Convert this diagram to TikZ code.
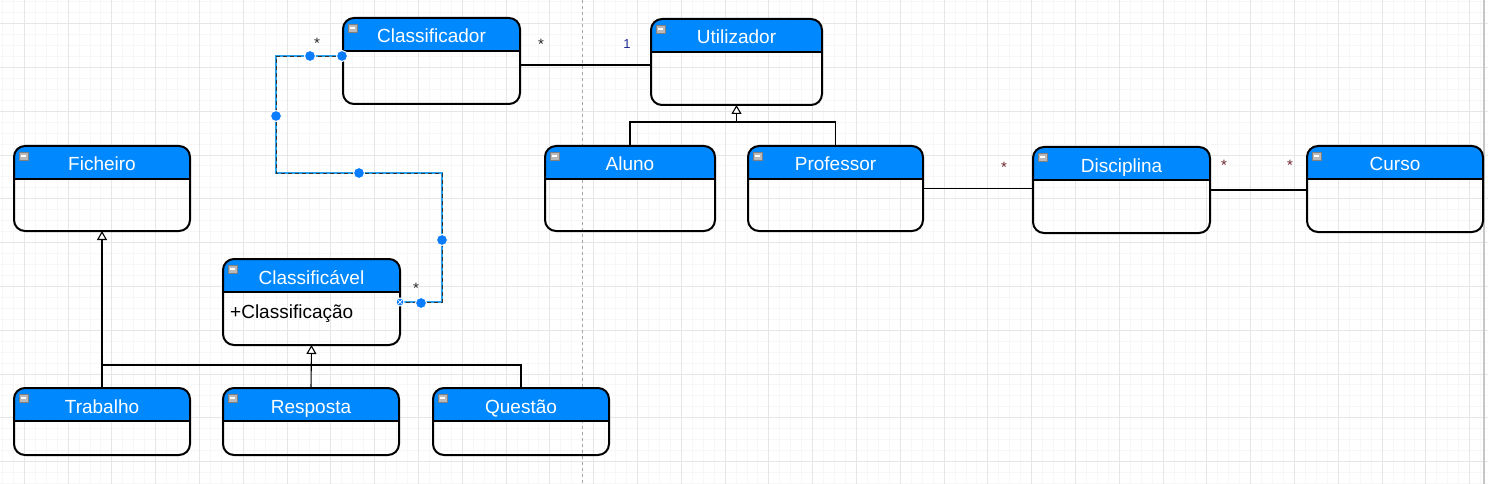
\documentclass[tikz,border=0pt]{standalone}
\usepackage{fontspec}
\setmainfont{Liberation Sans}
\usetikzlibrary{arrows.meta, positioning, calc}
\definecolor{hdrblue}{RGB}{0,136,255}
\definecolor{selblue}{RGB}{40,160,235}
\definecolor{dotblue}{RGB}{10,125,255}
\definecolor{gridminor}{RGB}{247,247,247}
\definecolor{gridmajor}{RGB}{230,230,230}
\definecolor{multred}{RGB}{110,35,45}
\definecolor{multnavy}{RGB}{30,40,150}
\tikzset{
classbox/.style={rectangle, inner sep=0pt, outer sep=0pt}, % invisible frame, only gives the anchors
classline/.style={line width=2pt, rounded corners=11pt}, % outline of every class
classtitle/.style={text=white, anchor=base, inner sep=0pt, font=\fontsize{19}{22}\selectfont},
assoc/.style={line width=1.1pt}, % plain association line
gen/.style={line width=1.1pt, -{Triangle[length=9pt, width=10pt, fill=white]}}, % inheritance
mult/.style={font=\fontsize{15}{16}\selectfont, inner sep=0pt}, % multiplicities
selpath/.style={draw=selblue, line width=1.6pt, postaction={draw=black!80, line width=0.8pt, dash pattern=on 4pt off 3pt}},
handle/.style={circle, fill=dotblue, draw=white, line width=1pt, minimum size=11pt, inner sep=0pt},
}
% name, top left corner, width, height, title
\newcommand{\umlclass}[5]{%
  \node[classbox, anchor=north west, minimum width=#3, minimum height=#4] (#1) at #2 {};
  \fill[hdrblue] ([yshift=-33pt]#1.north west) [rounded corners=11pt] -- (#1.north west) -- (#1.north east) [sharp corners] -- ([yshift=-33pt]#1.north east) -- cycle;
  \draw[line width=2pt] ([yshift=-33pt]#1.north west) -- ([yshift=-33pt]#1.north east);
  \draw[classline] (#1.north west) rectangle (#1.south east);
  \filldraw[fill=gray!55, draw=gray] ([xshift=5pt,yshift=-6pt]#1.north west) rectangle ++(9pt,-8pt);
  \draw[white, line width=1.3pt] ([xshift=7pt,yshift=-10pt]#1.north west) -- ++(5pt,0pt);
  \node[classtitle] at ([yshift=-25pt]#1.north) {#5};
}

\begin{document}
\begin{tikzpicture}[x=1pt, y=-1pt]
  \useasboundingbox (0,0) rectangle (1488,484);
  \fill[white] (0,0) rectangle (1488,484);
  % background grid
  \foreach \k in {0,...,135} \draw[gridminor] ({2.1+\k*10.95},0) -- ++(0,484);
  \foreach \k in {0,...,44} \draw[gridminor] (0,{1.4+\k*10.95}) -- ++(1488,0);
  \foreach \k in {0,...,33} \draw[gridmajor] ({24+\k*43.8},0) -- ++(0,484);
  \foreach \k in {0,...,10} \draw[gridmajor] (0,{23.3+\k*43.8}) -- ++(1488,0);
  \draw[gray!70, dashed] (582,0) -- (582,484);
  \draw[gray!45, line width=1.5pt] (1484,0) -- (1484,484);

  \umlclass{classificador}{(343,18)}{177pt}{86pt}{Classificador}
  \umlclass{utilizador}{(651,19)}{171pt}{86pt}{Utilizador}
  \umlclass{ficheiro}{(14,146)}{176pt}{85pt}{Ficheiro}
  \umlclass{aluno}{(545,146)}{170pt}{85pt}{Aluno}
  \umlclass{professor}{(748,146)}{175pt}{85pt}{Professor}
  \umlclass{disciplina}{(1033,147)}{177pt}{86pt}{Disciplina}
  \umlclass{curso}{(1307,146)}{176pt}{86pt}{Curso}
  \umlclass{classificavel}{(223,259)}{177pt}{86pt}{Classificável}
  \umlclass{trabalho}{(14,388)}{176pt}{67pt}{Trabalho}
  \umlclass{resposta}{(223,388)}{176pt}{67pt}{Resposta}
  \umlclass{questao}{(433,388)}{176pt}{67pt}{Questão}
  \node[anchor=base west, inner sep=0pt, font=\fontsize{19}{22}\selectfont] (attr) at ([xshift=7pt,yshift=-59pt]classificavel.north west) {+Classificação};

  % associations
  \coordinate (cleft) at ([yshift=-4pt]classificador.east);
  \draw[assoc] (cleft) -- (cleft -| utilizador.west);
  \draw[assoc] (professor.east) -- (professor.east -| disciplina.west);
  \draw[assoc] (disciplina.east) -- (disciplina.east -| curso.west);

  % inheritance
  \coordinate (ubar) at ([yshift=24pt]aluno.north);
  \draw[assoc] (aluno.north) -- (ubar) -| (professor.north);
  \draw[gen] (ubar -| utilizador.south) -- (utilizador.south);
  \coordinate (fbar) at ([yshift=23pt]trabalho.north);
  \draw[assoc] (fbar) -| (questao.north);
  \draw[gen] (trabalho.north) -- (ficheiro.south);
  \draw[gen] (resposta.north) -- (classificavel.south);

  % selected association
  \coordinate (selstart) at ([yshift=5pt]classificador.west);
  \draw[selpath] (selstart) -| (276,173) -| ([xshift=42pt]classificavel.east) -- (classificavel.east);
  \foreach \p in {(310,56), (342,56), (276,116), (359,173), (442,240), (421,303)}
    \node[handle] at \p {};
  \node[handle, minimum size=8pt] (xend) at (classificavel.east) {};
  \draw[white, line width=0.7pt] ([shift={(-1.8pt,-1.8pt)}]xend.center) -- ([shift={(1.8pt,1.8pt)}]xend.center)
    ([shift={(-1.8pt,1.8pt)}]xend.center) -- ([shift={(1.8pt,-1.8pt)}]xend.center);

  % multiplicities
  \node[mult, text=black!85] (m1) at (317,43) {*};
  \node[mult, text=black!85] (m2) at (541,44) {*};
  \node[mult, text=multnavy, font=\fontsize{13}{14}\selectfont] (m3) at (627,44) {1};
  \node[mult, text=black!85] (m4) at (416,288) {*};
  \node[mult, text=multred] (m5) at (1004,167) {*};
  \node[mult, text=multred] (m6) at (1224,165) {*};
  \node[mult, text=multred] (m7) at (1290,165) {*};
\end{tikzpicture}
\end{document}
